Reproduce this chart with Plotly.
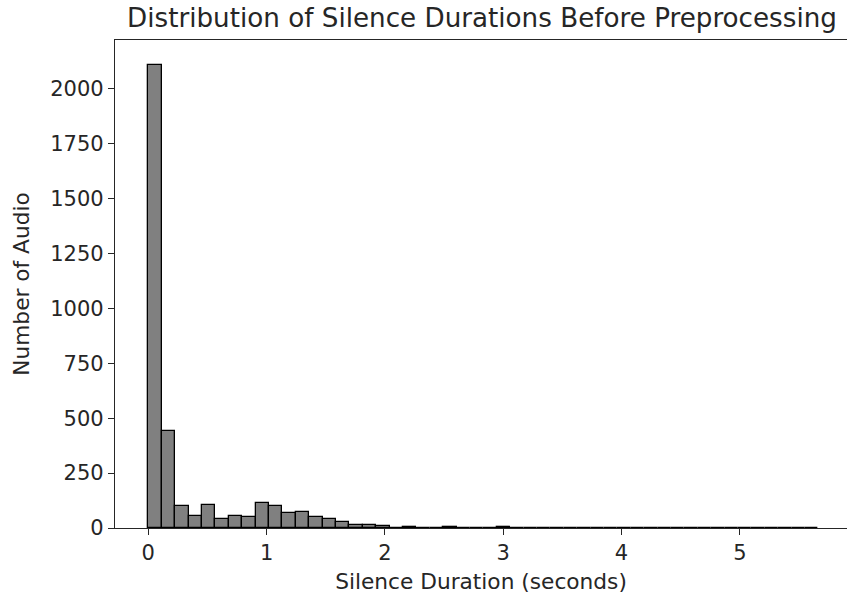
import plotly.graph_objects as go

# Histogram data: 50 equal-width bins starting at 0
bin_start = 0.0
bin_width = 0.1133
counts = [2110, 440, 100, 55, 106, 42, 56, 50, 112, 100,
          70, 72, 49, 41, 27, 15, 15, 9, 2, 5,
          1, 2, 5, 1, 1, 2, 5, 1, 1, 0,
          1, 0, 1, 1, 0, 1, 0, 1, 0, 1,
          0, 1, 0, 0, 1, 0, 1, 0, 0, 1]
x_ticks = [0, 1, 2, 3, 4, 5]
y_ticks = [0, 250, 500, 750, 1000, 1250, 1500, 1750, 2000]

centers = [bin_start + (i + 0.5) * bin_width for i in range(len(counts))]

fig = go.Figure(go.Bar(
    x=centers, y=counts, width=[bin_width] * len(counts),
    marker=dict(color="#808080", line=dict(color="#000000", width=1.3)),
))

font = "DejaVu Sans"
fig.update_layout(
    width=847, height=601,
    margin=dict(l=115, r=0, t=40, b=73),
    paper_bgcolor="white", plot_bgcolor="white",
    showlegend=False,
    font=dict(family=font, size=21, color="#262626"),
    title=dict(text="Distribution of Silence Durations Before Preprocessing",
               x=482 / 847, xref="container", xanchor="center",
               y=1 - 18 / 601, yref="container", yanchor="middle",
               font=dict(family=font, size=26.2, color="#262626")),
    bargap=0,
)
fig.update_xaxes(
    range=[-0.2815, 5.906], tickvals=x_ticks, ticktext=[str(v) for v in x_ticks],
    showgrid=False, zeroline=False, showline=True, linecolor="#262626", linewidth=1.3,
    mirror=True, ticks="outside", ticklen=6, tickcolor="#262626", tickwidth=1.3,
    tickfont=dict(size=21),
    title=dict(text="Silence Duration (seconds)", standoff=9, font=dict(size=21.7)),
)
fig.update_yaxes(
    range=[0, 2223], tickvals=y_ticks, ticktext=[str(v) for v in y_ticks],
    showgrid=False, zeroline=False, showline=True, linecolor="#262626", linewidth=1.3,
    mirror=False, ticks="outside", ticklen=6, tickcolor="#262626", tickwidth=1.3,
    tickfont=dict(size=21),
    title=dict(text="Number of Audio", standoff=14, font=dict(size=21.7)),
)

fig.write_html("out.html")
